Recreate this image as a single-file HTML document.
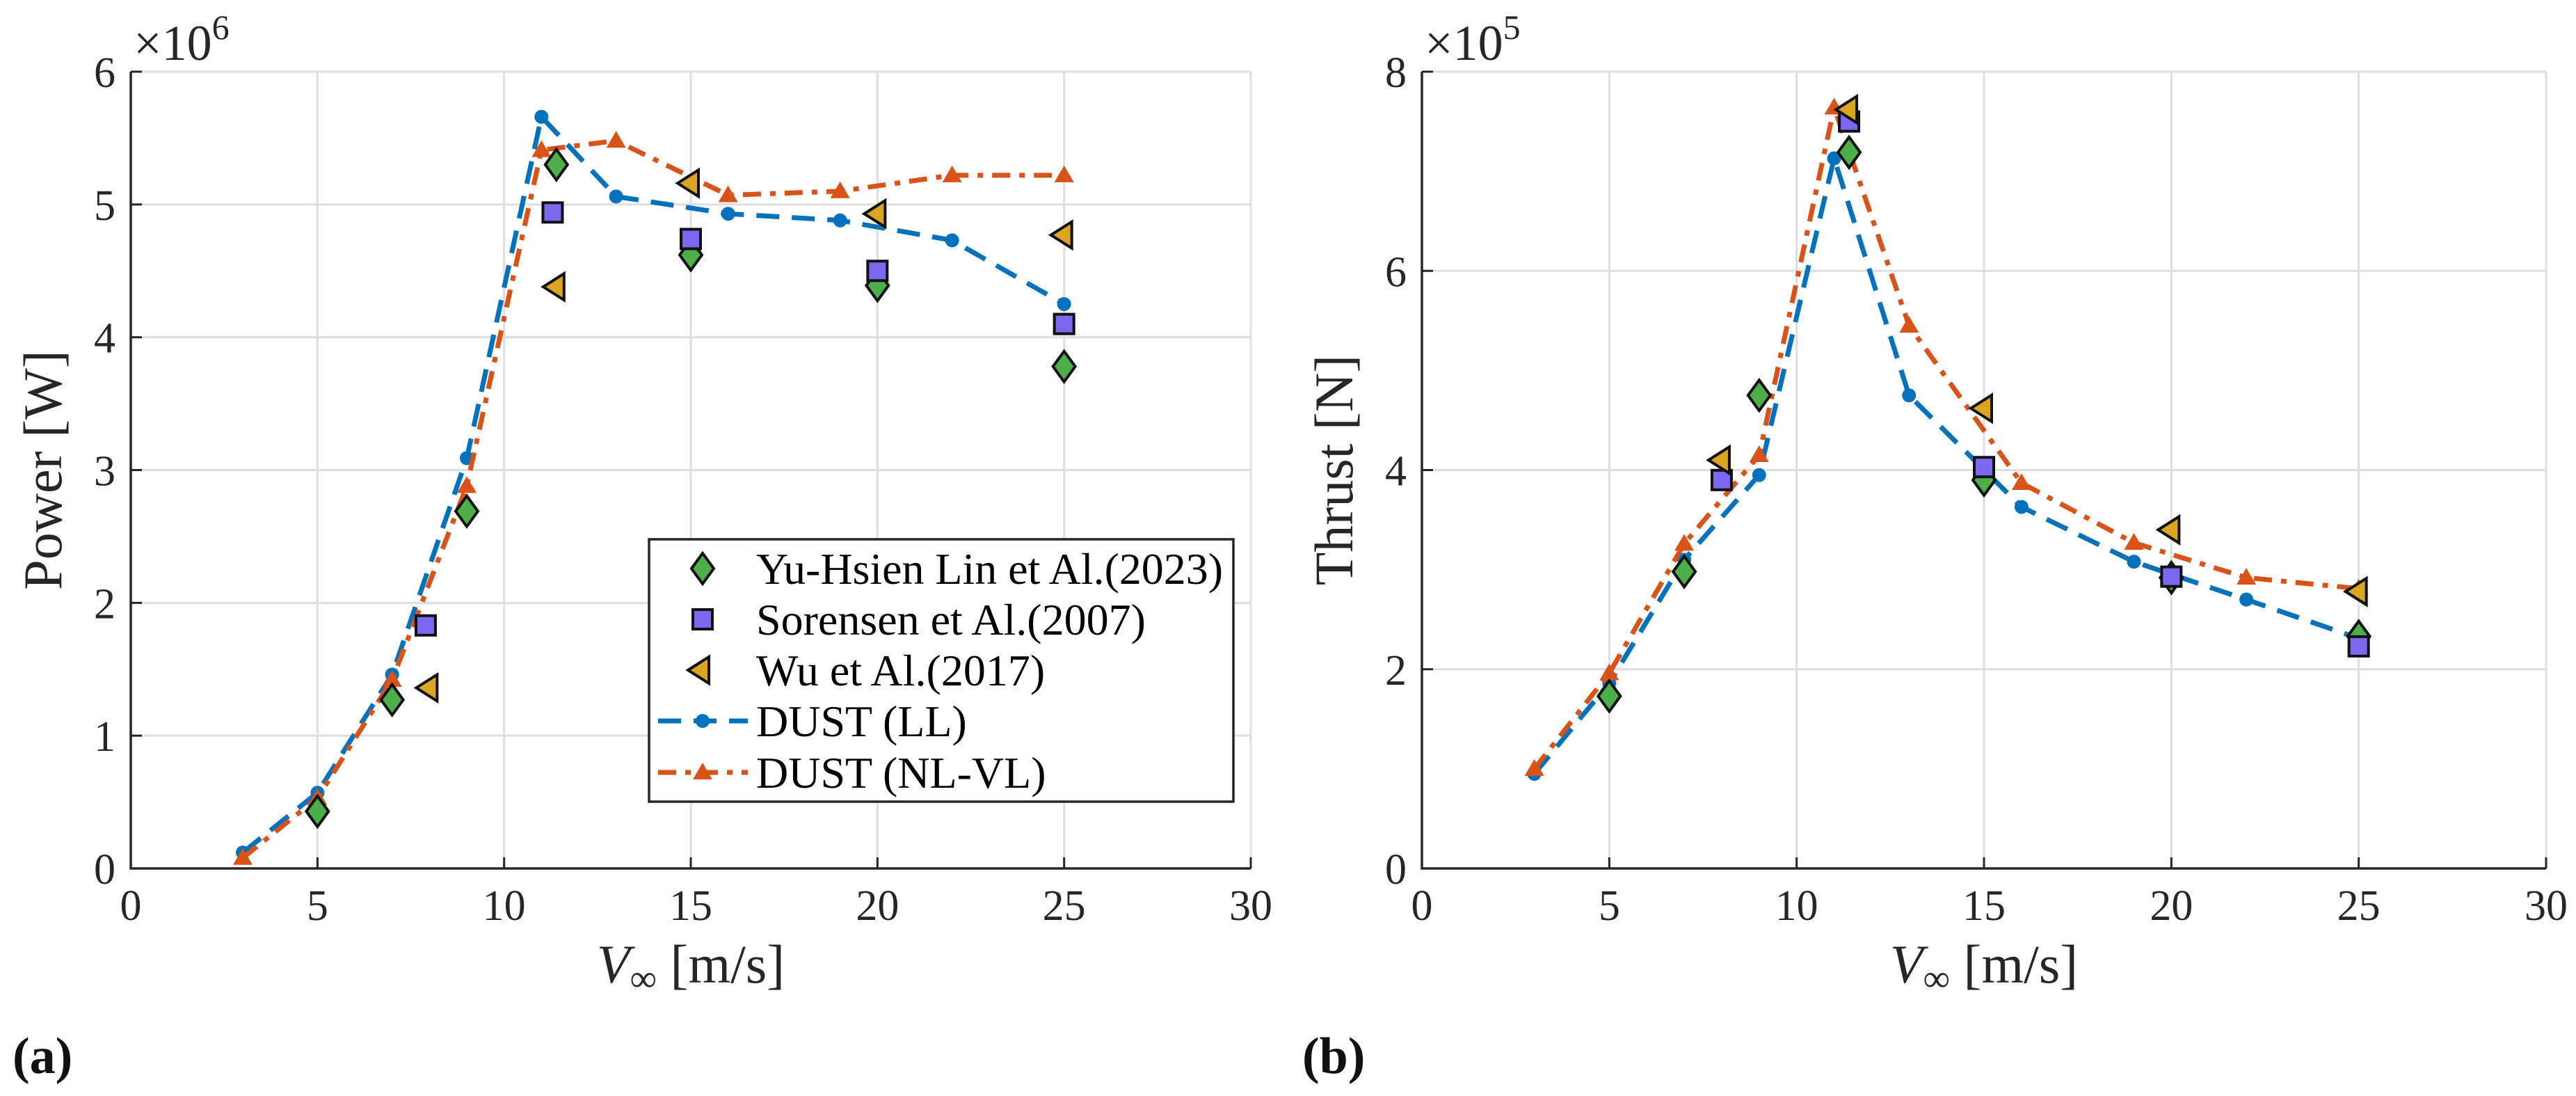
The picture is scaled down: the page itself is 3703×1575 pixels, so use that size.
<!DOCTYPE html>
<html><head><meta charset="utf-8"><style>
html,body{margin:0;padding:0;background:#fff;}
svg{display:block;font-family:"Liberation Serif",serif;}
</style></head><body>
<svg id="fig" width="3703" height="1575" viewBox="0 0 3703 1575" xmlns="http://www.w3.org/2000/svg"></svg>
<script>
// ---- data ----
const llX = [3,5,7,9,11,13,16,19,22,25];
const powerLL = [0.12,0.57,1.46,3.09,5.66,5.06,4.93,4.88,4.73,4.25];
const nlX = [3,5,7,9,11,13,16,19,22,25];
const powerNL = [0.08,0.53,1.42,2.88,5.41,5.48,5.07,5.10,5.22,5.22];
const powerLinX = [5,7,9,11.4,15,20,25];
const powerLin = [0.43,1.27,2.69,5.30,4.62,4.39,3.78];
const powerSorX = [7.9,11.3,15,20,25];
const powerSor = [1.83,4.94,4.74,4.50,4.10];
const powerWuX = [8,11.4,15,20,25];
const powerWu = [1.36,4.38,5.16,4.93,4.77];

const thrustLL = [0.95,1.86,3.10,3.95,7.13,4.75,3.63,3.08,2.70,2.31];
const thrustNL = [1.00,1.96,3.26,4.15,7.64,5.45,3.87,3.27,2.92,2.81];
const thrustLinX = [5,7,9,11.4,15,20,25];
const thrustLin = [1.73,2.98,4.75,7.19,3.90,2.92,2.33];
const thrustSorX = [8,11.4,15,20,25];
const thrustSor = [3.90,7.50,4.03,2.93,2.23];
const thrustWuX = [8,11.4,15,20,25];
const thrustWu = [4.10,7.62,4.62,3.40,2.78];

const xTicks = [0,5,10,15,20,25,30];
const powerTicks = [0,1,2,3,4,5,6];
const thrustTicks = [0,2,4,6,8];

const NS = "http://www.w3.org/2000/svg";
const svg = document.getElementById('fig');
function el(tag, attrs, parent){
  const e = document.createElementNS(NS, tag);
  for (const k in attrs) e.setAttribute(k, attrs[k]);
  (parent||svg).appendChild(e);
  return e;
}
const BLUE="#0072BD", ORANGE="#D95319", GREEN="#4DAF4A", PURPLE="#7B68EE", GOLD="#DAA520";

function diamond(g,x,y){ return el('polygon',{points:`${x},${y-22} ${x+16},${y} ${x},${y+22} ${x-16},${y}`,fill:GREEN,stroke:'#111','stroke-width':4},g); }
function square(g,x,y){ return el('rect',{x:x-14,y:y-14,width:28,height:28,fill:PURPLE,stroke:'#111','stroke-width':4},g); }
function triLeft(g,x,y){ return el('polygon',{points:`${x-19},${y} ${x+11},${y-19} ${x+11},${y+19}`,fill:GOLD,stroke:'#111','stroke-width':4},g); }
function dot(g,x,y){ return el('circle',{cx:x,cy:y,r:10,fill:BLUE},g); }
function triUp(g,x,y){ return el('polygon',{points:`${x},${y-14} ${x+14},${y+10} ${x-14},${y+10}`,fill:ORANGE},g); }

function panel(o){
  const g = el('g',{});
  
  
  const L=o.left, R=o.right, T=103, B=1248;
  const sx = v => L + v/30*(R-L);
  const sy = v => B - v/o.ymax*(B-T);
  const grid = el('g',{stroke:'#dedede','stroke-width':3},g);
  
  
  xTicks.forEach(t=>{ if(t>0) el('line',{x1:sx(t),x2:sx(t),y1:T,y2:B},grid); });
  o.yTicks.forEach(t=>{ if(t>0) el('line',{x1:L,x2:R,y1:sy(t),y2:sy(t)},grid); });
  const ax = el('path',{d:`M${L},${T} L${L},${B} L${R},${B}`,fill:'none',stroke:'#262626','stroke-width':3.5},g);
  
  
  xTicks.forEach(t=>{ el('line',{x1:sx(t),x2:sx(t),y1:B,y2:B-16,stroke:'#262626','stroke-width':3},g); });
  o.yTicks.forEach(t=>{ el('line',{x1:L,x2:L+16,y1:sy(t),y2:sy(t),stroke:'#262626','stroke-width':3},g); });
  xTicks.forEach(t=>{ const e=el('text',{x:sx(t),y:1322,'font-size':62,'text-anchor':'middle',fill:'#262626'},g); e.textContent=t;
      });
  o.yTicks.forEach(t=>{ const e=el('text',{x:L-22,y:sy(t)+22,'font-size':62,'text-anchor':'end',fill:'#262626'},g); e.textContent=t;
      });
  const ex = el('text',{x:L+4,y:86,'font-size':72,fill:'#262626'},g);
  ex.innerHTML = '×10<tspan dy="-30" font-size="50">'+o.exp+'</tspan>';
   
  const xl = el('text',{x:(L+R)/2,y:1412,'font-size':78,'text-anchor':'middle',fill:'#262626'},g);
  xl.innerHTML = '<tspan font-style="italic">V</tspan><tspan font-size="54" dy="12">∞</tspan><tspan dy="-12"> [m/s]</tspan>';
   
  const yl = el('text',{x:0,y:0,'font-size':78,'text-anchor':'middle',fill:'#262626',transform:`translate(${L-100},${(T+B)/2}) rotate(-90)`},g);
  yl.textContent = o.ylabel;
   
  const lp = llX.map((x,i)=>`${sx(x)},${sy(o.ll[i])}`).join(' ');
  const l1 = el('polyline',{points:lp,fill:'none',stroke:BLUE,'stroke-width':7,'stroke-dasharray':'33 18'},g);
   
  llX.forEach((x,i)=>{ const d=dot(g,sx(x),sy(o.ll[i]));   });
  const np = nlX.map((x,i)=>`${sx(x)},${sy(o.nl[i])}`).join(' ');
  const l2 = el('polyline',{points:np,fill:'none',stroke:ORANGE,'stroke-width':7,'stroke-dasharray':'26 13 8 13'},g);
   
  nlX.forEach((x,i)=>{ const d=triUp(g,sx(x),sy(o.nl[i]));   });
  o.linX.forEach((x,i)=>{ const d=diamond(g,sx(x),sy(o.lin[i]));   });
  o.sorX.forEach((x,i)=>{ const d=square(g,sx(x),sy(o.sor[i]));   });
  o.wuX.forEach((x,i)=>{ const d=triLeft(g,sx(x),sy(o.wu[i]));   });
  const pl = el('text',{x:o.letterX,y:1542,'font-size':74,'font-weight':'bold',fill:'#111'},g);
  pl.textContent = o.letter;
   
}

panel({name:'power-chart',left:188,right:1798,ymax:6,yTicks:powerTicks,exp:6,ylabel:'Power [W]',
  ll:powerLL,nl:powerNL,linX:powerLinX,lin:powerLin,sorX:powerSorX,sor:powerSor,wuX:powerWuX,wu:powerWu,letter:'(a)',letterX:18});
panel({name:'thrust-chart',left:2044,right:3660,ymax:8,yTicks:thrustTicks,exp:5,ylabel:'Thrust [N]',
  ll:thrustLL,nl:thrustNL,linX:thrustLinX,lin:thrustLin,sorX:thrustSorX,sor:thrustSor,wuX:thrustWuX,wu:thrustWu,letter:'(b)',letterX:1872});

const lg = el('g',{});


el('rect',{x:933,y:775,width:840,height:377,fill:'#fff',stroke:'#262626','stroke-width':3.5},lg);
const labels = ['Yu-Hsien Lin et Al.(2023)','Sorensen et Al.(2007)','Wu et Al.(2017)','DUST (LL)','DUST (NL-VL)'];
const ys = [817,890,963,1036,1110];
labels.forEach((t,i)=>{
  const e = el('text',{x:1087,y:ys[i]+22,'font-size':64,fill:'#000'},lg);
  if(i===0) e.setAttribute('textLength',671);
  e.textContent = t;
  
  
});
diamond(lg,1010,ys[0]); square(lg,1010,ys[1]); triLeft(lg,1008,ys[2]);
el('line',{x1:946,x2:1075,y1:ys[3],y2:ys[3],stroke:BLUE,'stroke-width':7,'stroke-dasharray':'33 18'},lg); dot(lg,1010,ys[3]);
el('line',{x1:946,x2:1075,y1:ys[4],y2:ys[4],stroke:ORANGE,'stroke-width':7,'stroke-dasharray':'26 13 8 13'},lg); triUp(lg,1010,ys[4]);
</script>
</body></html>
